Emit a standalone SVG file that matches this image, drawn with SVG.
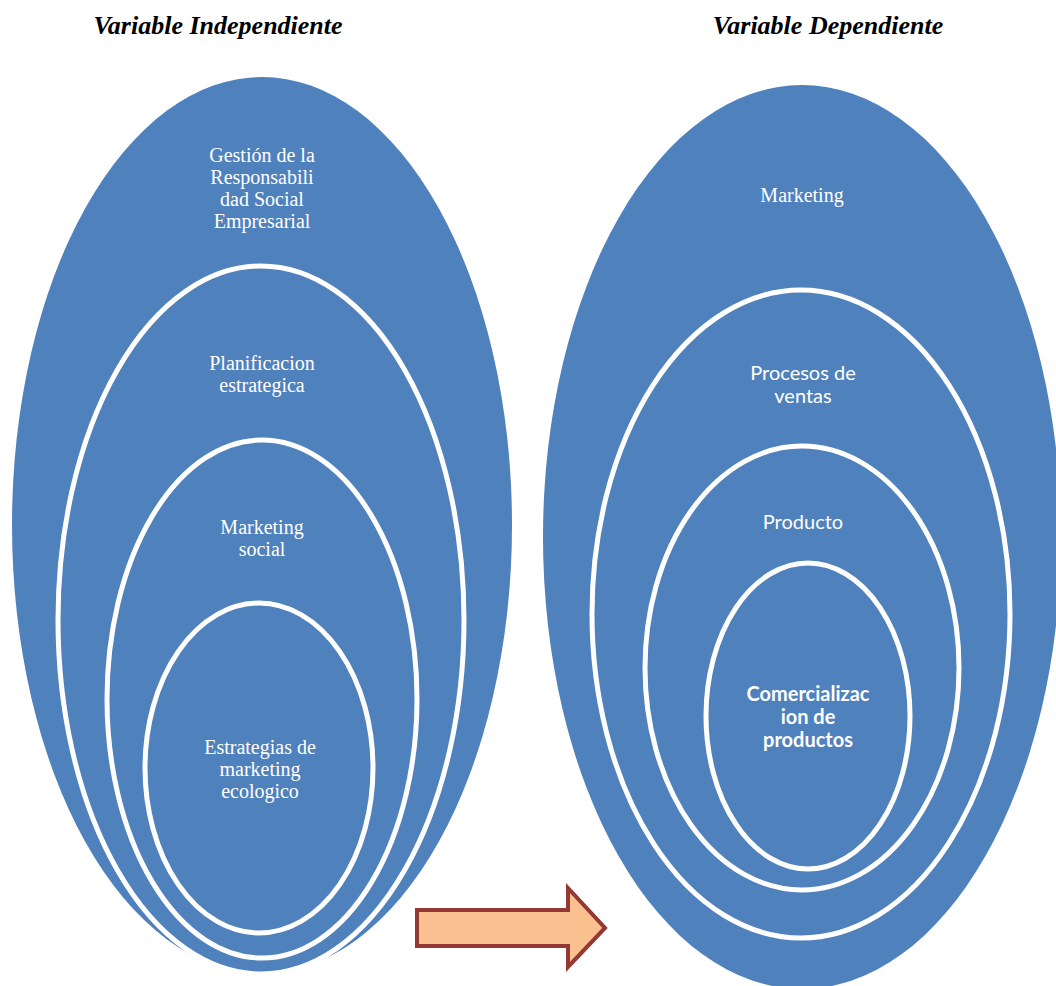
<svg xmlns="http://www.w3.org/2000/svg" width="1056" height="986" viewBox="0 0 1056 986">
<style>
.title{font-family:"Liberation Serif","Times New Roman",serif;font-size:26px;font-weight:bold;font-style:italic;fill:#000;text-anchor:middle}
.blob{fill:#4F81BD}
.ring{fill:#4F81BD;stroke:#FFFFFF;stroke-width:5}
.ts{font-family:"Liberation Serif","Times New Roman",serif;font-size:20px;fill:#FFFFFF;text-anchor:middle}
.tc{font-family:Lato,"Open Sans","Liberation Sans",sans-serif;font-size:20px;fill:#FFFFFF;text-anchor:middle}
.tb{font-family:Lato,"Open Sans","Liberation Sans",sans-serif;font-size:20px;font-weight:bold;fill:#FFFFFF;text-anchor:middle}
</style>
<rect width="1056" height="986" fill="#FFFFFF"/>
<text class="title" x="218" y="34">Variable Independiente</text>
<text class="title" x="828" y="34">Variable Dependiente</text>

<g id="node-gestion">
<ellipse class="blob" cx="262" cy="525" rx="250" ry="448"/>
<text class="ts" x="262" y="162">Gestión de la</text>
<text class="ts" x="262" y="184">Responsabili</text>
<text class="ts" x="262" y="206">dad Social</text>
<text class="ts" x="262" y="228">Empresarial</text>
</g>
<g id="node-planificacion">
<ellipse class="ring" cx="261" cy="620" rx="203" ry="354"/>
<text class="ts" x="262" y="370">Planificacion</text>
<text class="ts" x="262" y="392">estrategica</text>
</g>
<g id="node-marketing-social">
<ellipse class="ring" cx="262" cy="699" rx="155" ry="259"/>
<text class="ts" x="262" y="534">Marketing</text>
<text class="ts" x="262" y="556">social</text>
</g>
<g id="node-estrategias">
<ellipse class="ring" cx="259" cy="768" rx="114" ry="165"/>
<text class="ts" x="260" y="754">Estrategias de</text>
<text class="ts" x="260" y="776">marketing</text>
<text class="ts" x="260" y="798">ecologico</text>
</g>

<g id="node-marketing">
<ellipse class="blob" cx="802" cy="537" rx="259" ry="452"/>
<text class="ts" x="802" y="202">Marketing</text>
</g>
<g id="node-procesos">
<ellipse class="ring" cx="801" cy="614" rx="209" ry="324"/>
<text class="tc" x="803" y="380">Procesos de</text>
<text class="tc" x="803" y="403">ventas</text>
</g>
<g id="node-producto">
<ellipse class="ring" cx="802" cy="668" rx="157" ry="222"/>
<text class="tc" x="803" y="529">Producto</text>
</g>
<g id="node-comercializacion">
<ellipse class="ring" cx="808" cy="716" rx="102" ry="153"/>
<text class="tb" x="808" y="701">Comercializac</text>
<text class="tb" x="808" y="724">ion de</text>
<text class="tb" x="808" y="747">productos</text>
</g>

<g id="connectors">
<polygon points="417,910 568,910 568,888 605,928 568,967 568,946 417,946" fill="#FAC090" stroke="#953735" stroke-width="4" stroke-linejoin="miter"/>
</g>
</svg>
